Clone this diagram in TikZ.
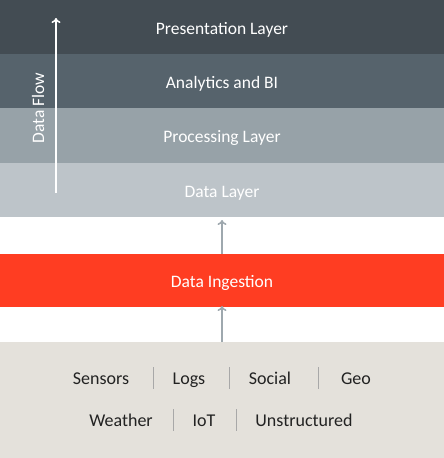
\documentclass[tikz,border=0pt]{standalone}
\usepackage{fontspec}
\setmainfont{Carlito}
\usetikzlibrary{arrows.meta}
\definecolor{cPres}{HTML}{434C53}
\definecolor{cAna}{HTML}{56636C}
\definecolor{cProc}{HTML}{97A2A8}
\definecolor{cData}{HTML}{BDC4C9}
\definecolor{cIng}{HTML}{FF3D22}
\definecolor{cSrc}{HTML}{E4E1DB}
\definecolor{cArr}{HTML}{9EA8AE}
\definecolor{cSep}{HTML}{A8A8A8}
\definecolor{cTxt}{HTML}{222222}
\tikzset{
  band/.style={rectangle, inner sep=0pt, outer sep=0pt, minimum width=444pt, anchor=north west},
  bandtext/.style={font=\fontsize{17.5}{20}\selectfont, text=white, anchor=base, inner sep=0pt},
  srctext/.style={font=\fontsize{18}{20}\selectfont, text=cTxt, anchor=base, inner sep=0pt},
  sep/.style={draw=cSep, line width=1pt},
  flow/.style={draw=cArr, line width=1.6pt, -{To[length=5pt,width=9pt]}},
  upflow/.style={draw=white, line width=1.6pt, -{To[length=5pt,width=9pt]}}
}
\begin{document}
\begin{tikzpicture}[x=1pt,y=-1pt]
\useasboundingbox (0,0) rectangle (444,458);
\node[band, fill=cPres, minimum height=54pt] (pres) at (0,0) {};
\node[band, fill=cAna, minimum height=54pt] (ana) at (0,54) {};
\node[band, fill=cProc, minimum height=55pt] (proc) at (0,108) {};
\node[band, fill=cData, minimum height=54pt] (data) at (0,163) {};
\node[band, fill=cIng, minimum height=53pt] (ing) at (0,254) {};
\node[band, fill=cSrc, minimum height=116pt] (src) at (0,342) {};
\node[bandtext] (tpres) at (222,34) {Presentation Layer};
\node[bandtext] (tana) at (222,88) {Analytics and BI};
\node[bandtext] (tproc) at (222,142) {Processing Layer};
\node[bandtext] (tdata) at (222,197) {Data Layer};
\node[bandtext] (ting) at (222,287) {Data Ingestion};
% data flow arrow
\coordinate (dfa) at (56,193);
\coordinate (dfb) at (56,18);
\draw[upflow] (dfa) -- (dfb);
\node[bandtext, rotate=90] (tdf) at (44,108) {Data Flow};
% connectors
\coordinate (i1) at (222,254);
\coordinate (d1) at (222,220);
\coordinate (s1) at (222,342);
\coordinate (i2) at (222,306);
\draw[flow] (i1) -- (d1);
\draw[flow] (s1) -- (i2);
% sources
\node[srctext] (sens) at (101,384) {Sensors};
\node[srctext] (logs) at (189,384) {Logs};
\node[srctext] (soc) at (270,384) {Social};
\node[srctext] (geo) at (356,384) {Geo};
\node[srctext] (wea) at (121,426) {Weather};
\node[srctext] (iot) at (204,426) {IoT};
\node[srctext] (uns) at (304,426) {Unstructured};
\draw[sep] (153,367) -- (153,389);
\draw[sep] (229,367) -- (229,389);
\draw[sep] (318,367) -- (318,389);
\draw[sep] (173,409) -- (173,431);
\draw[sep] (236,409) -- (236,431);
\end{tikzpicture}
\end{document}
